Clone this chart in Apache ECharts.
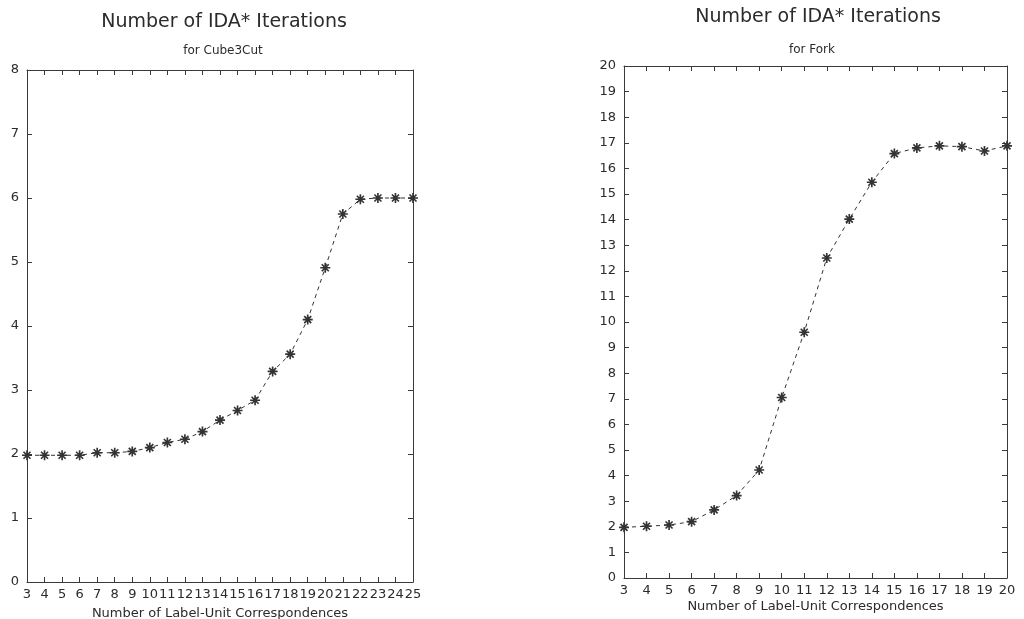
<!DOCTYPE html>
<html>
<head>
<meta charset="utf-8">
<script src="https://cdn.jsdelivr.net/npm/echarts@6/dist/echarts.min.js"></script>
<style>
  html, body { margin: 0; padding: 0; background: #fff; }
  #chart { width: 1024px; height: 619px; }
</style>
</head>
<body>
<div id="chart"></div>
<script>
// Number of label-unit correspondences (x) and IDA* iteration counts (y)
const cubeCorrespondences = [3, 4, 5, 6, 7, 8, 9, 10, 11, 12, 13, 14, 15, 16, 17, 18, 19, 20, 21, 22, 23, 24, 25];
const cubeIterations = [1.98, 1.98, 1.98, 1.98, 2.02, 2.02, 2.04, 2.10, 2.18, 2.23, 2.35, 2.53, 2.68, 2.84, 3.29, 3.56, 4.10, 4.91, 5.75, 5.98, 6.0, 6.0, 6.0];

const forkCorrespondences = [3, 4, 5, 6, 7, 8, 9, 10, 11, 12, 13, 14, 15, 16, 17, 18, 19, 20];
const forkIterations = [1.98, 2.02, 2.07, 2.2, 2.66, 3.22, 4.22, 7.05, 9.6, 12.5, 14.02, 15.46, 16.58, 16.8, 16.88, 16.85, 16.68, 16.88];

const titleText = 'Number of IDA* Iterations';
const cubeSubtitle = 'for Cube3Cut';
const forkSubtitle = 'for Fork';
const xAxisName = 'Number of Label-Unit Correspondences';

const ink = '#2b2b2b';
const axisInk = '#3a3a3a';
const font = 'DejaVu Sans, Liberation Sans, sans-serif';

// eight-armed asterisk marker
const asterisk = 'path://M-1,-6L1,-6L1,6L-1,6Z M-6,-1L6,-1L6,1L-6,1Z M-3.5,-4.9L4.9,3.5L3.5,4.9L-4.9,-3.5Z M3.5,-4.9L4.9,-3.5L-3.5,4.9L-4.9,3.5Z';

function pairs(xs, ys) { return xs.map((x, i) => [x, ys[i]]); }

const frameLine = { show: true, onZero: false, lineStyle: { color: axisInk, width: 1 } };
const frameTick = { show: true, inside: true, length: 5, lineStyle: { color: axisInk } };

function mainX(gridIndex, min, max, nameGap, labelMargin) {
  return {
    type: 'value', gridIndex, min, max, interval: 1, position: 'bottom',
    name: xAxisName, nameLocation: 'middle', nameGap, nameMoveOverlap: false,
    nameTextStyle: { color: ink, fontSize: 13, fontFamily: font },
    axisLine: frameLine, axisTick: frameTick,
    axisLabel: { color: ink, fontSize: 13, fontFamily: font, margin: labelMargin },
    splitLine: { show: false }
  };
}
function mirrorX(gridIndex, min, max) {
  return {
    type: 'value', gridIndex, min, max, interval: 1, position: 'top',
    axisLine: frameLine, axisTick: frameTick,
    axisLabel: { show: false }, splitLine: { show: false }
  };
}
function mainY(gridIndex, max) {
  return {
    type: 'value', gridIndex, min: 0, max, interval: 1, position: 'left',
    axisLine: frameLine, axisTick: frameTick,
    axisLabel: { color: ink, fontSize: 13, fontFamily: font, margin: 8 },
    splitLine: { show: false }
  };
}
function mirrorY(gridIndex, max) {
  return {
    type: 'value', gridIndex, min: 0, max, interval: 1, position: 'right',
    axisLine: frameLine, axisTick: frameTick,
    axisLabel: { show: false }, splitLine: { show: false }
  };
}
function series(xIdx, yIdx, data) {
  return {
    type: 'line', xAxisIndex: xIdx, yAxisIndex: yIdx, data,
    symbol: asterisk, symbolSize: 10, showAllSymbol: true,
    itemStyle: { color: '#333' },
    lineStyle: { color: '#333', width: 1, type: [4, 4] },
    silent: true, animation: false, clip: false
  };
}

const chart = echarts.init(document.getElementById('chart'), null, { renderer: 'canvas' });
chart.setOption({
  backgroundColor: '#fff',
  animation: false,
  title: [
    { text: titleText, left: 219, top: 8, textAlign: 'center',
      textStyle: { color: ink, fontSize: 19, fontWeight: 'normal', fontFamily: font } },
    { text: cubeSubtitle, left: 218, top: 40, textAlign: 'center',
      textStyle: { color: ink, fontSize: 12, fontWeight: 'normal', fontFamily: font } },
    { text: titleText, left: 813, top: 3, textAlign: 'center',
      textStyle: { color: ink, fontSize: 19, fontWeight: 'normal', fontFamily: font } },
    { text: forkSubtitle, left: 807, top: 39, textAlign: 'center',
      textStyle: { color: ink, fontSize: 12, fontWeight: 'normal', fontFamily: font } }
  ],
  grid: [
    { left: 27, top: 70, width: 386, height: 512, outerBoundsMode: 'none', containLabel: false },
    { left: 624, top: 66, width: 383, height: 512, outerBoundsMode: 'none', containLabel: false }
  ],
  xAxis: [
    mainX(0, 3, 25, 25, 6), mirrorX(0, 3, 25),
    mainX(1, 3, 20, 22, 6), mirrorX(1, 3, 20)
  ],
  yAxis: [
    mainY(0, 8), mirrorY(0, 8),
    mainY(1, 20), mirrorY(1, 20)
  ],
  series: [
    series(0, 0, pairs(cubeCorrespondences, cubeIterations)),
    series(2, 2, pairs(forkCorrespondences, forkIterations))
  ]
});
</script>
</body>
</html>
